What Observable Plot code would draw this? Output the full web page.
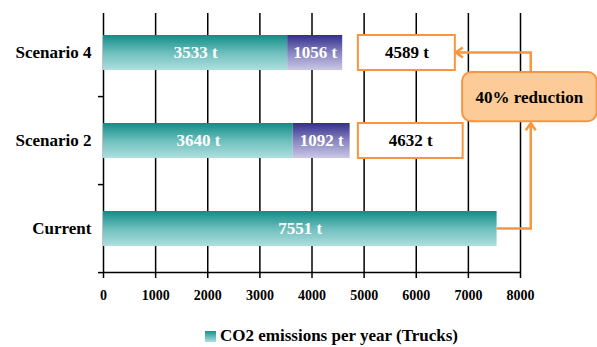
<!DOCTYPE html>
<html><head><meta charset="utf-8">
<script src="https://cdn.jsdelivr.net/npm/d3@7"></script>
<script src="https://cdn.jsdelivr.net/npm/@observablehq/plot@0.6"></script>
<style>
body{margin:0;background:#fff;font-family:"Liberation Serif","Times New Roman",serif;}
#wrap{position:relative;width:597px;height:347px;overflow:hidden;}
#legend{position:absolute;left:205px;top:326px;display:flex;align-items:center;font-weight:bold;font-size:17px;color:#000;white-space:nowrap;}
#legend .sw{width:11px;height:11px;background:linear-gradient(#14908a,#b0e0e0);margin-right:4px;}
</style></head><body><div id="wrap"></div>
<script>
const categories = ["Scenario 4", "Scenario 2", "Current"];
const truckValues = [3533, 3640, 7551];
const addedValues = [1056, 1092, 0];
const totalLabels = ["4589 t", "4632 t", ""];
const xTicks = [0, 1000, 2000, 3000, 4000, 5000, 6000, 7000, 8000];
const legendLabel = "CO2 emissions per year (Trucks)";
const reductionLabel = "40% reduction";

const rows = categories.map((c, i) => ({cat: c, truck: truckValues[i], added: addedValues[i], total: totalLabels[i]}));
const boxed = rows.filter(d => d.total);
const ORANGE = "#F7963F";

function annotations(index, scales) {
  const x = scales.x, y = scales.y;
  const step = y(categories[1]) - y(categories[0]);
  const bw = 0.4 * step;
  const c4 = y(categories[0]) + bw / 2;
  const c2 = y(categories[1]) + bw / 2;
  const cc = y(categories[2]) + bw / 2;
  const mid = (c4 + c2) / 2;
  const g = d3.create("svg:g");
  const x0 = x(0);
  [mid, (c2 + cc) / 2, cc + step / 2].forEach(v => {
    g.append("line").attr("x1", x0 - 5).attr("x2", x0).attr("y1", v).attr("y2", v)
      .attr("stroke", "#000").attr("stroke-width", 1.5);
  });
  g.append("line").attr("x1", x0).attr("x2", x(8000)).attr("y1", cc + step / 2).attr("y2", cc + step / 2)
    .attr("stroke", "#000").attr("stroke-width", 1.5);
  const xa = x(8206);
  const boxH = 0.56 * step;
  const top = mid - boxH / 2, bot = mid + boxH / 2;
  const sw = 2.5;
  g.append("path").attr("d", `M${x(truckValues[2])},${cc}H${xa}V${bot + 2}`)
    .attr("fill", "none").attr("stroke", ORANGE).attr("stroke-width", sw);
  g.append("path").attr("d", `M${xa - 5},${bot + 9}L${xa},${bot + 2}L${xa + 5},${bot + 9}`)
    .attr("fill", "none").attr("stroke", ORANGE).attr("stroke-width", sw);
  const xt = x(6750);
  g.append("path").attr("d", `M${xa},${top}V${c4}H${xt + 1}`)
    .attr("fill", "none").attr("stroke", ORANGE).attr("stroke-width", sw);
  g.append("path").attr("d", `M${xt + 8},${c4 - 5}L${xt + 1},${c4}L${xt + 8},${c4 + 5}`)
    .attr("fill", "none").attr("stroke", ORANGE).attr("stroke-width", sw);
  const bx1 = x(6890), bx2 = x(9470);
  g.append("rect").attr("x", bx1).attr("y", top).attr("width", bx2 - bx1).attr("height", boxH)
    .attr("rx", 9).attr("fill", "#FDCB97").attr("stroke", ORANGE).attr("stroke-width", 2);
  g.append("text").attr("x", (bx1 + bx2) / 2).attr("y", mid).attr("dy", "0.35em")
    .attr("text-anchor", "middle").attr("font-size", 17).attr("font-weight", "bold")
    .attr("fill", "#000").text(reductionLabel);
  return g.node();
}

const plot = Plot.plot({
  width: 597,
  height: 305,
  marginLeft: 103,
  marginRight: 77,
  marginTop: 13,
  marginBottom: 32,
  style: {fontFamily: "Liberation Serif, Times New Roman, serif", color: "#000", background: "#fff"},
  x: {domain: [0, 8000]},
  y: {domain: categories, paddingInner: 0.6, paddingOuter: 0.277, align: 0.46},
  marks: [
    Plot.ruleX(xTicks, {stroke: "#000", strokeWidth: 1.5}),
    Plot.axisX({ticks: xTicks, tickSize: 5, tickPadding: 12, tickFormat: d => String(d), fontSize: 14, fontWeight: "bold", label: null, strokeWidth: 1.5}),
    Plot.axisY({tickSize: 0, tickPadding: 12, fontSize: 17, fontWeight: "bold", label: null}),
    Plot.barX(rows, {y: "cat", x1: 0, x2: "truck", fill: "url(#tealGrad)"}),
    Plot.barX(rows.filter(d => d.added > 0), {y: "cat", x1: "truck", x2: d => d.truck + d.added, fill: "url(#purpleGrad)"}),
    Plot.text(rows, {y: "cat", x: d => d.truck / 2, text: d => `${d.truck} t`, fill: "white", fontSize: 17, fontWeight: "bold"}),
    Plot.text(rows.filter(d => d.added > 0), {y: "cat", x: d => d.truck + d.added / 2, text: d => `${d.added} t`, fill: "white", fontSize: 17, fontWeight: "bold"}),
    Plot.barX(boxed, {y: "cat", x1: () => 4890, x2: d => d.cat === categories[0] ? 6750 : 6900, fill: "white", stroke: ORANGE, strokeWidth: 2}),
    Plot.text(boxed, {y: "cat", x: d => (4890 + (d.cat === categories[0] ? 6750 : 6900)) / 2, text: "total", fill: "#000", fontSize: 17, fontWeight: "bold"}),
    annotations
  ]
});

const defs = document.createElementNS("http://www.w3.org/2000/svg", "defs");
defs.innerHTML = `
<linearGradient id="tealGrad" x1="0" y1="0" x2="0" y2="1">
  <stop offset="0" stop-color="#118c86"/>
  <stop offset="0.5" stop-color="#6cbebc"/>
  <stop offset="1" stop-color="#afdfdf"/>
</linearGradient>
<linearGradient id="purpleGrad" x1="0" y1="0" x2="0" y2="1">
  <stop offset="0" stop-color="#332e8d"/>
  <stop offset="0.5" stop-color="#8884bf"/>
  <stop offset="1" stop-color="#cac7e7"/>
</linearGradient>`;
plot.insertBefore(defs, plot.firstChild);

const wrap = document.getElementById("wrap");
wrap.appendChild(plot);
const legend = document.createElement("div");
legend.id = "legend";
legend.innerHTML = `<span class="sw"></span><span></span>`;
legend.lastChild.textContent = legendLabel;
wrap.appendChild(legend);
</script></body></html>
